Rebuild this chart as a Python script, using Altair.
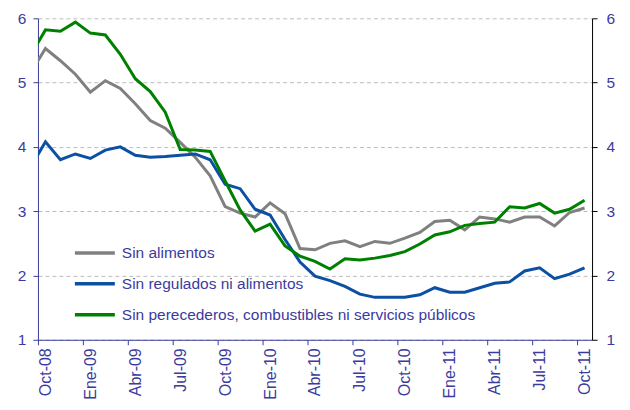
import altair as alt
import pandas as pd

# Monthly data, Sep-08 (partly hidden at the left edge) to Oct-11
months = ["Sep-08", "Oct-08", "Nov-08", "Dic-08",
          "Ene-09", "Feb-09", "Mar-09", "Abr-09", "May-09", "Jun-09", "Jul-09", "Ago-09", "Sep-09", "Oct-09", "Nov-09", "Dic-09",
          "Ene-10", "Feb-10", "Mar-10", "Abr-10", "May-10", "Jun-10", "Jul-10", "Ago-10", "Sep-10", "Oct-10", "Nov-10", "Dic-10",
          "Ene-11", "Feb-11", "Mar-11", "Abr-11", "May-11", "Jun-11", "Jul-11", "Ago-11", "Sep-11", "Oct-11"]

sin_alimentos = [5.15, 5.53, 5.34, 5.13, 4.85, 5.03, 4.91, 4.67, 4.41, 4.29, 4.07, 3.84, 3.55, 3.07, 2.97,
                 2.91, 3.13, 2.96, 2.42, 2.40, 2.50, 2.54, 2.45, 2.53, 2.50, 2.58, 2.67, 2.84, 2.86, 2.71,
                 2.91, 2.88, 2.83, 2.91, 2.91, 2.77, 2.98, 3.05]
sin_regulados = [3.68, 4.08, 3.80, 3.89, 3.82, 3.95, 4.00, 3.87, 3.84, 3.85, 3.87, 3.89, 3.80, 3.42, 3.35,
                 3.03, 2.94, 2.56, 2.21, 1.99, 1.92, 1.83, 1.71, 1.66, 1.66, 1.66, 1.70, 1.81, 1.74, 1.74,
                 1.81, 1.88, 1.90, 2.07, 2.12, 1.95, 2.02, 2.12]
sin_perecederos = [5.42, 5.82, 5.80, 5.94, 5.77, 5.74, 5.44, 5.06, 4.86, 4.54, 3.96, 3.95, 3.93, 3.47, 3.02,
                   2.69, 2.80, 2.46, 2.30, 2.22, 2.10, 2.26, 2.24, 2.27, 2.31, 2.37, 2.49, 2.63, 2.68, 2.78,
                   2.81, 2.83, 3.07, 3.05, 3.12, 2.97, 3.03, 3.17]

series_names = ["Sin alimentos", "Sin regulados ni alimentos",
                "Sin perecederos, combustibles ni servicios públicos"]
series_colors = ["#808080", "#0B50A2", "#008000"]

tick_labels = ["Oct-08", "Ene-09", "Abr-09", "Jul-09", "Oct-09", "Ene-10", "Abr-10",
               "Jul-10", "Oct-10", "Ene-11", "Abr-11", "Jul-11", "Oct-11"]
y_ticks = [1, 2, 3, 4, 5, 6]

rows = []
for name, vals in zip(series_names, [sin_alimentos, sin_regulados, sin_perecederos]):
    for i, (m, v) in enumerate(zip(months, vals)):
        rows.append({"mes": m, "t": i - 0.5, "serie": name, "v": v})
df = pd.DataFrame(rows)

INDIGO = "#3B3B9E"
FONT = "Liberation Sans"

label_expr = "[" + ",".join("'%s'" % s for s in tick_labels) + "][round(datum.value/3)]"

xscale = alt.Scale(domain=[0, 37], nice=False, zero=False)
yscale = alt.Scale(domain=[1, 6], nice=False, zero=False)

x_enc = alt.X("t:Q", scale=xscale, title=None,
              axis=alt.Axis(values=list(range(0, 37, 3)), labelExpr=label_expr,
                            labelAngle=270, labelOffset=7.5, labelAlign="right",
                            labelBaseline="middle", labelPadding=3,
                            labelFontSize=16, labelColor=INDIGO, labelFont=FONT,
                            domainColor=INDIGO, tickColor=INDIGO, tickSize=5,
                            grid=False))

lines = alt.Chart(df).mark_line(strokeWidth=3, clip=True).encode(
    x=x_enc,
    y=alt.Y("v:Q", scale=yscale, title=None,
            axis=alt.Axis(values=y_ticks, grid=True, gridDash=[4, 3], gridColor="#BDBDBD",
                          gridWidth=1, labelFontSize=15.5, labelColor=INDIGO, labelFont=FONT,
                          labelPadding=7, domainColor=INDIGO, tickColor=INDIGO, tickSize=5)),
    color=alt.Color("serie:N", sort=series_names,
                    scale=alt.Scale(domain=series_names, range=series_colors),
                    legend=alt.Legend(title=None, orient="none", legendX=35, legendY=213,
                                      symbolType="stroke", symbolSize=1600, symbolStrokeWidth=3.5,
                                      labelFontSize=15.5, labelFont=FONT, labelColor=INDIGO,
                                      labelOffset=5, rowPadding=-3.5, labelLimit=500)),
)

right = alt.Chart(df).mark_line(opacity=0).encode(
    x=alt.X("t:Q", scale=xscale),
    y=alt.Y("v:Q", scale=yscale, title=None,
            axis=alt.Axis(orient="right", values=y_ticks, grid=False, labelFontSize=15.5,
                          labelColor=INDIGO, labelFont=FONT, labelPadding=9,
                          domainColor="black", tickColor="black", tickSize=5)),
    detail="serie:N",
)

chart = alt.layer(lines, right).resolve_scale(y="independent").properties(
    width=555, height=322,
    autosize=alt.AutoSizeParams(type="none"),
    padding={"left": 30, "top": 10, "right": 30, "bottom": 62},
).configure_view(stroke=None)

chart.save("out.html", embed_options={"renderer": "svg", "actions": False})
